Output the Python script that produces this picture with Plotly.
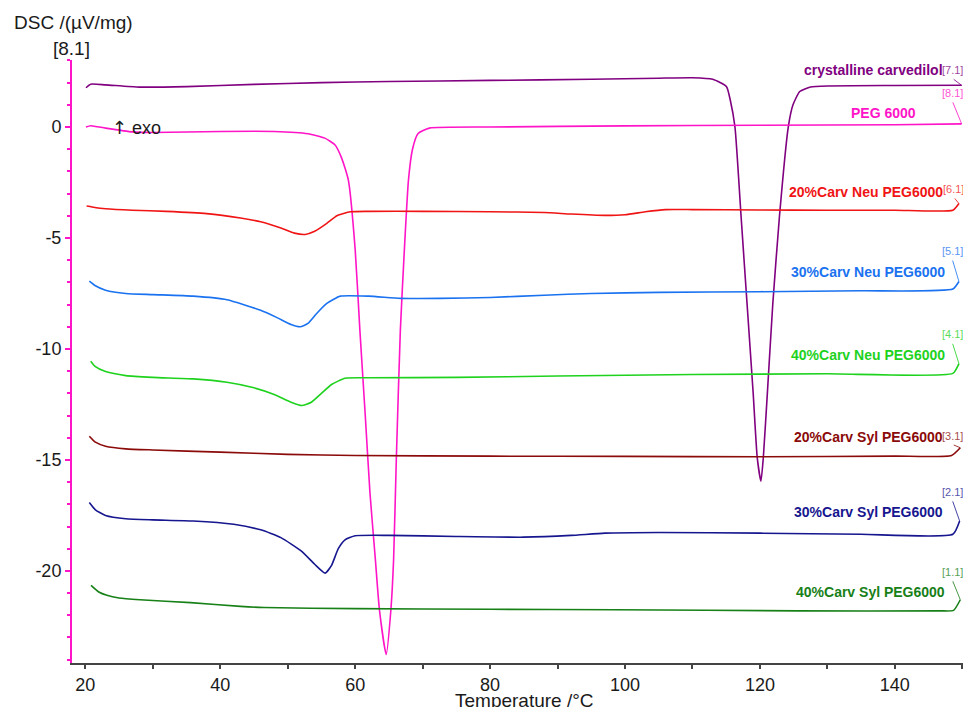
import plotly.graph_objects as go

# ---------------- data ----------------
series_names = [
    "crystalline carvedilol", "PEG 6000",
    "20%Carv Neu PEG6000", "30%Carv Neu PEG6000", "40%Carv Neu PEG6000",
    "20%Carv Syl PEG6000", "30%Carv Syl PEG6000", "40%Carv Syl PEG6000",
]
series_tags = ["[7.1]", "[8.1]", "[6.1]", "[5.1]", "[4.1]", "[3.1]", "[2.1]", "[1.1]"]

carv_T = [20.1, 20.8, 23, 28, 35, 45, 55, 65, 80, 95, 105, 110, 113, 115.05, 115.6, 116.3,
          117.2, 118.1, 119.0, 119.6, 120.15, 120.5, 121.1, 121.9, 122.9, 124.2, 124.9,
          125.9, 127.5, 130, 140, 149.9]
carv_v = [1.77, 1.93, 1.9, 1.8, 1.82, 1.92, 2.0, 2.05, 2.1, 2.15, 2.2, 2.22, 2.15, 1.82, 1.22, 0.0,
          -4.0, -8.0, -12.0, -14.9, -15.96, -14.9, -12.0, -8.0, -4.0, 0.0, 1.0,
          1.6, 1.8, 1.85, 1.87, 1.88]

peg_T = [20.1, 20.8, 23, 27, 30, 40, 48, 53, 55.5, 57, 58, 59, 60, 60.7, 61.5, 62.2, 63.0, 63.6,
         64.6, 65.3, 65.7, 66.1, 66.7, 67.3, 67.9, 68.5, 69.3, 71, 80, 100, 120, 140, 149.9]
peg_v = [0.0, 0.06, -0.05, -0.22, -0.25, -0.2, -0.2, -0.3, -0.5, -0.8, -1.4, -2.4, -5.5, -9.15,
         -13.0, -16.5, -19.5, -21.75, -23.77, -21.75, -19.5, -15.0, -9.15, -5.5, -2.4, -1.0,
         -0.3, -0.05, 0.0, 0.05, 0.08, 0.1, 0.14]

neu20_T = [20.2, 21, 23, 27, 32, 38, 43, 46, 49, 51, 52.6, 54, 55.8, 57.3, 59.3, 62, 70, 80, 88,
           92, 97, 100, 103, 106, 110, 120, 130, 140, 148.6, 149.5]
neu20_v = [-3.56, -3.6, -3.68, -3.75, -3.8, -3.9, -4.1, -4.27, -4.55, -4.78, -4.84, -4.7, -4.34,
           -4.0, -3.82, -3.8, -3.8, -3.82, -3.85, -3.92, -3.98, -3.95, -3.82, -3.72, -3.72,
           -3.74, -3.75, -3.75, -3.75, -3.45]

neu30_T = [20.6, 21.5, 23, 26, 30, 36, 41, 45.9, 48.5, 50.5, 51.85, 53, 54.3, 55.8, 57.8, 62,
           66.7, 72.6, 80, 88, 95, 105, 120, 135, 148.6, 149.5]
neu30_v = [-6.94, -7.15, -7.35, -7.5, -7.55, -7.62, -7.78, -8.25, -8.6, -8.9, -9.0, -8.85, -8.4,
           -7.95, -7.62, -7.62, -7.72, -7.72, -7.68, -7.58, -7.5, -7.45, -7.42, -7.38, -7.3, -6.96]

neu40_T = [20.8, 21.5, 23, 26, 30, 36, 41, 45, 48, 50.5, 52.1, 53.5, 55, 56.5, 58.5, 62, 75, 90,
           110, 130, 148.6, 149.5]
neu40_v = [-10.55, -10.8, -11.02, -11.2, -11.28, -11.35, -11.5, -11.75, -12.05, -12.4, -12.55,
           -12.4, -12.0, -11.6, -11.32, -11.3, -11.28, -11.22, -11.15, -11.12, -11.1, -10.66]

syl20_T = [20.6, 21.5, 23, 26, 30, 40, 50, 60, 80, 100, 120, 140, 148.4, 149.7]
syl20_v = [-13.93, -14.2, -14.38, -14.5, -14.55, -14.65, -14.75, -14.8, -14.83, -14.84, -14.86,
           -14.83, -14.8, -14.45]

syl30_T = [20.6, 21.5, 23, 26, 30, 36, 42, 46, 49, 52, 54, 55.56, 56.5, 57.5, 58.5, 60, 65, 75,
           85, 92, 97, 105, 120, 135, 148.6, 149.6]
syl30_v = [-16.92, -17.25, -17.5, -17.65, -17.7, -17.75, -17.9, -18.15, -18.5, -19.1, -19.7,
           -20.1, -19.75, -19.0, -18.6, -18.42, -18.4, -18.45, -18.48, -18.4, -18.3, -18.27,
           -18.3, -18.35, -18.35, -17.75]

syl40_T = [20.85, 22, 23.2, 25, 28.1, 35.6, 43, 46.5, 60, 80, 98.4, 125.7, 146.7, 148.7, 149.7]
syl40_v = [-20.65, -20.95, -21.1, -21.22, -21.3, -21.43, -21.6, -21.65, -21.7, -21.73, -21.75,
           -21.8, -21.8, -21.78, -21.3]

x_tick_vals = [20, 40, 60, 80, 100, 120, 140]
x_tick_text = ["20", "40", "60", "80", "100", "120", "140"]
y_tick_vals = [0, -5, -10, -15, -20]
y_tick_text = ["0", "-5", "-10", "-15", "-20"]

# ---------------- styling ----------------
FONT = "Liberation Sans, Arial"
PINK = "#FF14C8"
colors = ["#800080", PINK, "#F01414", "#1A72F0", "#1ED21E", "#8B0A0A", "#16168F", "#178017"]
xs = [carv_T, peg_T, neu20_T, neu30_T, neu40_T, syl20_T, syl30_T, syl40_T]
ys = [carv_v, peg_v, neu20_v, neu30_v, neu40_v, syl20_v, syl30_v, syl40_v]

# label anchor (right edge, in data units)
label_pos = [(147.4, 2.57), (143.4, 0.62), (147.4, -2.92), (147.8, -6.52), (147.8, -10.28),
             (147.4, -13.96), (147.4, -17.34), (147.8, -20.95)]
# tag text centre (data units) for the "[n.1]" markers
tag_pos = [(148.5, 2.2), (148.5, 1.18), (148.7, -3.15), (148.5, -5.95), (148.5, -9.7),
           (148.5, -14.3), (148.5, -16.8), (148.5, -20.4)]

fig = go.Figure()
for i in range(len(series_names)):
    fig.add_trace(go.Scatter(x=xs[i], y=ys[i], mode="lines", name=series_names[i],
                             line=dict(color=colors[i], width=1.6, shape="spline", smoothing=0.5),
                             showlegend=False, hoverinfo="skip"))

annotations = []
for i in range(len(series_names)):
    lx, ly = label_pos[i]
    annotations.append(dict(x=lx, y=ly, xref="x", yref="y", text="<b>%s</b>" % series_names[i],
                            showarrow=False, xanchor="right", yanchor="middle",
                            font=dict(family=FONT, size=14, color=colors[i])))
    tx, ty = tag_pos[i]
    annotations.append(dict(x=tx, y=ty, xref="x", yref="y", text=series_tags[i],
                            showarrow=False, xanchor="center", yanchor="bottom",
                            font=dict(family=FONT, size=11, color=colors[i]), opacity=0.75))
    # leader line from curve end up to the tag
    annotations.append(dict(x=xs[i][-1], y=ys[i][-1], xref="x", yref="y", text="",
                            showarrow=True, arrowhead=0, arrowwidth=1, arrowcolor=colors[i],
                            axref="x", ayref="y", ax=tx, ay=ty, standoff=0, opacity=0.8))

annotations += [
    dict(x=-0.0673, y=1.0614, xref="paper", yref="paper", text="DSC /(µV/mg)", showarrow=False,
         xanchor="left", yanchor="middle", font=dict(family=FONT, size=19, color="#1a1a1a")),
    dict(x=-0.001, y=1.0194, xref="paper", yref="paper", text="[8.1]", showarrow=False,
         xanchor="center", yanchor="middle", font=dict(family=FONT, size=19, color="#1a1a1a")),
    dict(x=23.7, y=0.0, xref="x", yref="y",
         text="<span style='font-family:DejaVu Sans'>↑</span> exo", showarrow=False,
         xanchor="left", yanchor="middle", font=dict(family=FONT, size=18, color="#1a1a1a")),
    dict(x=0.508, y=-0.062, xref="paper", yref="paper", text="Temperature /°C", showarrow=False,
         xanchor="center", yanchor="middle", font=dict(family=FONT, size=19, color="#1a1a1a")),
]

fig.update_layout(
    width=963, height=707,
    margin=dict(l=72, r=0, t=60, b=44, autoexpand=False),
    paper_bgcolor="white", plot_bgcolor="white",
    annotations=annotations,
    xaxis=dict(range=[18.03, 150.1], tickvals=x_tick_vals, ticktext=x_tick_text,
               ticks="outside", ticklen=4, automargin=False,
               tickwidth=1.5, tickcolor="#444", showline=True, linecolor="#444", linewidth=2,
               showgrid=False, zeroline=False,
               minor=dict(dtick=10, tick0=20, ticks="outside", ticklen=4, tickcolor="#444",
                          tickwidth=1.5, showgrid=False),
               tickfont=dict(family=FONT, size=18, color="#1a1a1a")),
    yaxis=dict(range=[-24.15, 3.02], tickvals=y_tick_vals, ticktext=y_tick_text,
               ticks="outside", ticklen=5, automargin=False,
               tickwidth=1.5, tickcolor=PINK, showline=True, linecolor=PINK, linewidth=2,
               showgrid=False, zeroline=False,
               minor=dict(dtick=1, tick0=0, ticks="outside", ticklen=3, tickcolor=PINK,
                          tickwidth=1.5, showgrid=False),
               tickfont=dict(family=FONT, size=18, color="#1a1a1a")),
)

# remove the default page margin so the 963x707 figure fills the window exactly
fig.write_html("out.html", config={"displayModeBar": False},
               post_script="document.body.style.margin='0';document.body.style.overflow='hidden';")
